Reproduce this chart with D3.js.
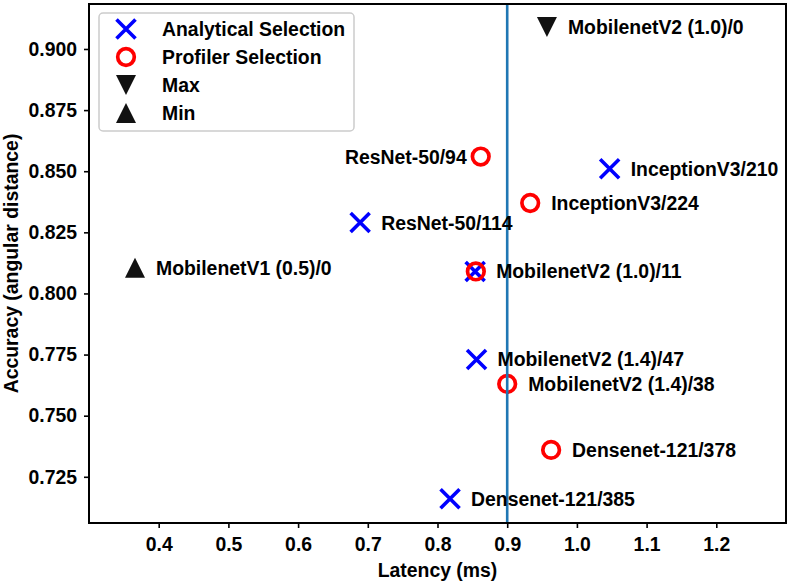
<!DOCTYPE html>
<html>
<head>
<meta charset="utf-8">
<script src="https://cdn.jsdelivr.net/npm/d3@7"></script>
<style>
  html, body { margin: 0; padding: 0; background: #fff; }
  svg text { font-family: "Liberation Sans", Arial, sans-serif; font-weight: bold; }
</style>
</head>
<body>
<div id="svg-container"></div>
<script>
////////////////////////////////////////////////////////////////////
////////////////////////////  Data  ////////////////////////////////
const analyticalNames = ["InceptionV3/210", "ResNet-50/114", "MobilenetV2 (1.0)/11", "MobilenetV2 (1.4)/47", "Densenet-121/385"];
const analyticalLatency = [1.047, 0.689, 0.854, 0.856, 0.818];
const analyticalAccuracy = [0.851, 0.829, 0.809, 0.773, 0.716];

const profilerNames = ["ResNet-50/94", "InceptionV3/224", "MobilenetV2 (1.0)/11", "MobilenetV2 (1.4)/38", "Densenet-121/378"];
const profilerLatency = [0.862, 0.933, 0.855, 0.900, 0.963];
const profilerAccuracy = [0.856, 0.837, 0.809, 0.763, 0.736];

const maxNames = ["MobilenetV2 (1.0)/0"];
const maxLatency = [0.957];
const maxAccuracy = [0.909];

const minNames = ["MobilenetV1 (0.5)/0"];
const minLatency = [0.366];
const minAccuracy = [0.8105];

const latencyTarget = 0.9;
const xTicks = [0.4, 0.5, 0.6, 0.7, 0.8, 0.9, 1.0, 1.1, 1.2];
const yTicks = [0.725, 0.75, 0.775, 0.8, 0.825, 0.85, 0.875, 0.9];
const legendLabels = ["Analytical Selection", "Profiler Selection", "Max", "Min"];
// labels drawn on the left of their marker
const leftLabels = ["ResNet-50/94"];

////////////////////////////////////////////////////////////////////
////////////////////////////  Init  ////////////////////////////////
const width = 789;
const height = 582;
const margin = { top: 4, right: 3, bottom: 59, left: 89 };
const fontSize = 19.4;

const svg = d3.select("#svg-container").append("svg")
  .attr("width", width)
  .attr("height", height);

const xScale = d3.scaleLinear().domain([0.3, 1.3]).range([margin.left, width - margin.right]);
const yScale = d3.scaleLinear().domain([0.7061, 0.9184]).range([height - margin.bottom, margin.top]);

const zip = (names, xs, ys) => names.map((n, i) => ({ name: n, latency: xs[i], accuracy: ys[i] }));
const analytical = zip(analyticalNames, analyticalLatency, analyticalAccuracy);
const profiler = zip(profilerNames, profilerLatency, profilerAccuracy);
const maxPts = zip(maxNames, maxLatency, maxAccuracy);
const minPts = zip(minNames, minLatency, minAccuracy);

// marker drawers
const drawCross = (g, r) => g.append("path")
  .attr("d", `M${-r},${-r}L${r},${r}M${-r},${r}L${r},${-r}`)
  .attr("stroke", "#0000ff").attr("stroke-width", 3.6).attr("fill", "none");
const drawCircle = (g, r) => g.append("circle")
  .attr("r", r).attr("fill", "none").attr("stroke", "#ff0000").attr("stroke-width", 3.7);
const drawDown = (g, r) => g.append("path")
  .attr("d", `M${-r},${-r}L${r},${-r}L0,${r}Z`).attr("fill", "#111");
const drawUp = (g, r) => g.append("path")
  .attr("d", `M${-r},${r}L${r},${r}L0,${-r}Z`).attr("fill", "#111");

////////////////////////////////////////////////////////////////////
////////////////////////////  Markers  /////////////////////////////
const plot = svg.append("g");

function addMarkers(data, drawer, r) {
  plot.selectAll(null)
    .data(data)
    .enter()
    .append("g")
    .attr("transform", (d) => `translate(${xScale(d.latency)},${yScale(d.accuracy)})`)
    .each(function () { drawer(d3.select(this), r); });
}
addMarkers(minPts, drawUp, 10);
addMarkers(maxPts, drawDown, 10);
addMarkers(analytical, drawCross, 9.5);
addMarkers(profiler, drawCircle, 8.3);

// vertical latency line
svg.append("line")
  .attr("x1", xScale(latencyTarget)).attr("x2", xScale(latencyTarget))
  .attr("y1", margin.top).attr("y2", height - margin.bottom)
  .attr("stroke", "#1f77b4").attr("stroke-width", 2.6);

// labels
const allPts = [...analytical, ...profiler, ...maxPts, ...minPts];
const seen = new Set();
const labels = allPts.filter((d) => (seen.has(d.name) ? false : seen.add(d.name)));
svg.selectAll(".pt-label")
  .data(labels)
  .enter()
  .append("text")
  .attr("class", "pt-label")
  .attr("x", (d) => xScale(d.latency) + (leftLabels.includes(d.name) ? -14 : 21))
  .attr("y", (d) => yScale(d.accuracy) + 7)
  .attr("text-anchor", (d) => (leftLabels.includes(d.name) ? "end" : "start"))
  .attr("font-size", fontSize)
  .attr("fill", "#000")
  .text((d) => d.name);

////////////////////////////////////////////////////////////////////
////////////////////////////  Axes  ////////////////////////////////
const xAxis = d3.axisBottom(xScale).tickValues(xTicks).tickFormat(d3.format(".1f")).tickSize(5).tickPadding(9);
const yAxis = d3.axisLeft(yScale).tickValues(yTicks).tickFormat(d3.format(".3f")).tickSize(5).tickPadding(7);

const gx = svg.append("g").attr("transform", `translate(0,${height - margin.bottom})`).call(xAxis);
const gy = svg.append("g").attr("transform", `translate(${margin.left},0)`).call(yAxis);
[gx, gy].forEach((g) => {
  g.select(".domain").remove();
  g.selectAll(".tick line").attr("stroke", "#000").attr("stroke-width", 1.6);
  g.selectAll(".tick text").attr("font-size", fontSize).attr("fill", "#000")
    .style("font-family", '"Liberation Sans", Arial, sans-serif').style("font-weight", "bold");
});

// frame
svg.append("rect")
  .attr("x", margin.left).attr("y", margin.top)
  .attr("width", width - margin.left - margin.right)
  .attr("height", height - margin.top - margin.bottom)
  .attr("fill", "none").attr("stroke", "#000").attr("stroke-width", 2);

// axis titles
svg.append("text")
  .attr("x", (margin.left + width - margin.right) / 2)
  .attr("y", 577)
  .attr("text-anchor", "middle")
  .attr("font-size", fontSize)
  .text("Latency (ms)");

svg.append("text")
  .attr("transform", `translate(18,${(margin.top + height - margin.bottom) / 2}) rotate(-90)`)
  .attr("text-anchor", "middle")
  .attr("font-size", fontSize)
  .text("Accuracy (angular distance)");

////////////////////////////////////////////////////////////////////
////////////////////////////  Legend  //////////////////////////////
const legend = svg.append("g");
legend.append("rect")
  .attr("x", 99).attr("y", 13).attr("width", 255).attr("height", 118).attr("rx", 4)
  .attr("fill", "#fff").attr("fill-opacity", 0.8)
  .attr("stroke", "#cccccc").attr("stroke-width", 1.5);

const legendDrawers = [[drawCross, 9.5], [drawCircle, 8.3], [drawDown, 10], [drawUp, 10]];
legendLabels.forEach((label, i) => {
  const row = legend.append("g").attr("transform", `translate(126,${29 + i * 28})`);
  legendDrawers[i][0](row, legendDrawers[i][1]);
  row.append("text").attr("x", 36).attr("y", 7).attr("font-size", fontSize).text(label);
});
</script>
</body>
</html>
